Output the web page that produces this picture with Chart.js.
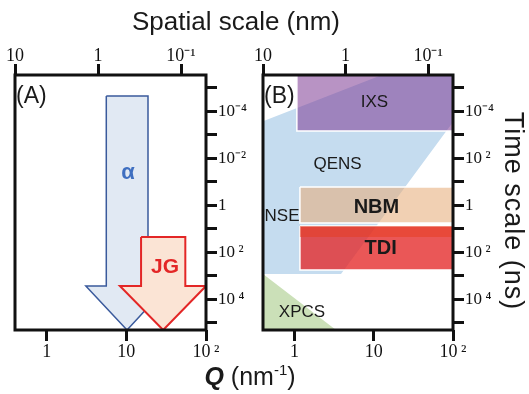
<!DOCTYPE html>
<html lang="en">
<head>
<meta charset="UTF-8" />
<title>Q - time scale map</title>
<script src="https://cdn.jsdelivr.net/npm/chart.js@4.4.1/dist/chart.umd.min.js"></script>
<style>
  body { margin: 0; background: #fff; }
  #wrap { position: relative; width: 529px; height: 394px; overflow: hidden; font-family: 'Liberation Sans', Arial, sans-serif; color: #1a1a1a; }
  canvas { position: absolute; top: 0; }
  #chartA { left: 0; }
  #chartB { left: 250px; }
  .txt { position: absolute; white-space: nowrap; }
  #spatialTitle { left: 0; width: 472px; top: 8px; text-align: center; font-size: 26px; line-height: 26px; }
  #qTitle { left: 150px; width: 200px; top: 364px; text-align: center; font-size: 25px; line-height: 25px; }
  #qTitle sup { font-size: 15px; vertical-align: 10px; line-height: 0; }
  #timeTitle { left: 394px; width: 240px; top: 196px; height: 30px; line-height: 30px; text-align: center;
               font-size: 27px; letter-spacing: 1px; transform: rotate(90deg); }
  .panel { font-size: 23px; line-height: 23px; top: 84px; }
</style>
</head>
<body>
<div id="wrap">
  <canvas id="chartA" width="260" height="394"></canvas>
  <canvas id="chartB" width="279" height="394"></canvas>
  <div class="txt" id="spatialTitle">Spatial scale (nm)</div>
  <div class="txt" id="qTitle"><b><i>Q</i></b> (nm<sup>-1</sup>)</div>
  <div class="txt" id="timeTitle">Time scale (ns)</div>
  <div class="txt panel" style="left:16px">(A)</div>
  <div class="txt panel" style="left:264px">(B)</div>
</div>

<script>
    // axis ranges and ticks
    const qMin = 0.4, qMax = 100;          // Q (nm^-1), bottom
    const spaceMin = 0.05, spaceMax = 10;  // spatial scale (nm), top
    const tMin = 2.82e-6, tMax = 2.0e5;    // time scale (ns), right

    const qTicks = [1, 10, 100];
    const qTickLabels = ['1', '10', '10\u2009²'];
    const spaceTicks = [10, 1, 0.1];
    const spaceTickLabels = ['10', '1', '10⁻¹'];
    const timeTicks = [1e-5, 1e-4, 1e-3, 1e-2, 1e-1, 1, 10, 100, 1e3, 1e4, 1e5];
    const timeTickLabelsA = ['', '10⁻⁴', '', '10⁻²', '', '1', '', '10\u2009²', '', '10\u2009⁴', ''];
    const timeTickLabelsB = ['', '10⁻⁴', '', '10\u2009²', '', '1', '', '10\u2009²', '', '10\u2009⁴', ''];

    // panel A : arrows (Q, time)
    const alphaQ = [5.6, 18.7, 18.7, 33, 10.2, 3.1, 5.6, 5.6];
    const alphaT = [2.2e-5, 2.2e-5, 2700, 2700, 2e5, 2700, 2700, 2.2e-5];
    const jgQ = [15.3, 55, 55, 100, 29, 8.3, 15.3, 15.3];
    const jgT = [22, 22, 2700, 2700, 2e5, 2700, 2700, 22];
    const aNames = ['α', 'JG'];
    const aNameQ = [10.5, 30.6];
    const aNameT = [0.042, 437];

    // panel B : technique windows (Q, time)
    const qensQ = [0.4, 12.7, 100, 100, 3.86, 0.4, 0.4];
    const qensT = [2.6e-4, 2.8e-6, 2.8e-6, 2.8e-4, 830, 830, 2.6e-4];
    const xpcsQ = [0.4, 3.34, 0.4, 0.4];
    const xpcsT = [830, 2e5, 2e5, 830];
    const ixsQ = [1.07, 100, 100, 1.07, 1.07];
    const ixsT = [2.8e-6, 2.8e-6, 6.8e-4, 6.8e-4, 2.8e-6];
    const nbmQ = [1.17, 100, 100, 1.17, 1.17];
    const nbmT = [0.164, 0.164, 5.6, 5.6, 0.164];
    const tdiQ = [1.17, 100, 100, 1.17, 1.17];
    const tdiT = [7.5, 7.5, 560, 560, 7.5];
    const tdiTopT = [7.5, 7.5, 22, 22, 7.5];
    const bNames = ['IXS', 'QENS', 'NSE', 'NBM', 'TDI', 'XPCS'];
    const bNameQ = [10.2, 3.49, 0.695, 10.8, 12.2, 1.24];
    const bNameT = [4.2e-5, 0.0174, 2.96, 1.22, 68, 3.6e4];

    const serif = size => ({ family: "'Liberation Serif', 'Times New Roman', serif", size: size });

    function shape(qs, ts, fill, stroke, width, order) {
        return {
            data: qs.map((q, i) => ({ x: q, y: ts[i] })),
            backgroundColor: fill,
            borderColor: stroke,
            borderWidth: width,
            borderJoinStyle: 'miter',
            fill: 'shape',
            pointRadius: 0,
            tension: 0,
            order: order
        };
    }

    // texts inside the plot, placed on the data scales
    const plotLabels = {
        id: 'plotLabels',
        afterDatasetsDraw(chart, args, opts) {
            const { ctx, scales } = chart;
            opts.names.forEach((name, i) => {
                ctx.save();
                ctx.font = opts.fonts[i];
                ctx.fillStyle = opts.colors[i];
                ctx.textAlign = 'center';
                ctx.textBaseline = 'middle';
                ctx.fillText(name, scales.x.getPixelForValue(opts.q[i]), scales.y.getPixelForValue(opts.t[i]));
                ctx.restore();
            });
        }
    };

    // black frame round the plot area
    const frame = {
        id: 'frame',
        afterDraw(chart) {
            const { ctx, chartArea: a } = chart;
            ctx.save();
            ctx.lineWidth = 3;
            ctx.strokeStyle = '#111';
            ctx.strokeRect(a.left, a.top, a.right - a.left, a.bottom - a.top);
            ctx.restore();
        }
    };

    function makeScales(timeLabels, rightWidth) {
        const grid = { drawOnChartArea: false, drawTicks: true, tickLength: 11, tickWidth: 3, tickColor: '#111' };
        return {
            x: {
                type: 'logarithmic', position: 'bottom', min: qMin, max: qMax,
                afterBuildTicks: s => { s.ticks = qTicks.map(v => ({ value: v })); },
                afterFit: s => { s.height = 64; },
                ticks: { autoSkip: false, maxRotation: 0, padding: 0, color: '#111', font: serif(18),
                         callback: (v, i) => qTickLabels[i] },
                grid: grid, border: { display: false }
            },
            x2: {
                type: 'logarithmic', position: 'top', min: spaceMin, max: spaceMax, reverse: true,
                afterBuildTicks: s => { s.ticks = spaceTicks.map(v => ({ value: v })); },
                afterFit: s => { s.height = 75; },
                ticks: { autoSkip: false, maxRotation: 0, padding: -3, color: '#111', font: serif(18),
                         callback: (v, i) => spaceTickLabels[i] },
                grid: grid, border: { display: false }
            },
            y: {
                type: 'logarithmic', position: 'right', min: tMin, max: tMax, reverse: true,
                afterBuildTicks: s => { s.ticks = timeTicks.map(v => ({ value: v })); },
                afterFit: s => { s.width = rightWidth; },
                ticks: { autoSkip: false, padding: 1, color: '#111', font: serif(17),
                         callback: (v, i) => timeLabels[i] },
                grid: grid, border: { display: false }
            }
        };
    }

    function makeChart(id, datasets, labels, timeLabels, padLeft, rightWidth) {
        return new Chart(document.getElementById(id), {
            type: 'line',
            data: { datasets: datasets },
            options: {
                responsive: false,
                animation: false,
                events: [],
                layout: { padding: { left: padLeft, right: 0, top: 0, bottom: 0 } },
                scales: makeScales(timeLabels, rightWidth),
                plugins: { legend: { display: false }, tooltip: { enabled: false }, plotLabels: labels }
            },
            plugins: [plotLabels, frame]
        });
    }

    makeChart('chartA', [
        shape(jgQ, jgT, '#fbe4d5', '#e32626', 2, 1),
        shape(alphaQ, alphaT, '#e1e9f3', '#3a5a9c', 1.5, 2)
    ], {
        names: aNames, q: aNameQ, t: aNameT,
        fonts: ['bold 22px "Liberation Sans", Arial', 'bold 21px "Liberation Sans", Arial'],
        colors: ['#3f6fc0', '#e32626']
    }, timeTickLabelsA, 15, 54);

    makeChart('chartB', [
        shape(tdiQ, tdiTopT, 'rgba(230,60,30,0.5)', 'rgba(0,0,0,0)', 0, 2),
        shape(tdiQ, tdiT, 'rgba(228,40,40,0.78)', '#ffffff', 1.5, 3),
        shape(nbmQ, nbmT, 'rgba(231,174,124,0.58)', '#ffffff', 1.5, 4),
        shape(ixsQ, ixsT, 'rgba(125,58,147,0.55)', '#ffffff', 1.5, 5),
        shape(xpcsQ, xpcsT, '#cbe0b8', 'rgba(0,0,0,0)', 0, 6),
        shape(qensQ, qensT, '#c5dcef', 'rgba(0,0,0,0)', 0, 7)
    ], {
        names: bNames, q: bNameQ, t: bNameT,
        fonts: ['17px "Liberation Sans", Arial', '17px "Liberation Sans", Arial', '17px "Liberation Sans", Arial',
                'bold 20px "Liberation Sans", Arial', 'bold 20px "Liberation Sans", Arial', '17px "Liberation Sans", Arial'],
        colors: ['#1a1a1a', '#1a1a1a', '#1a1a1a', '#1a1a1a', '#1a1a1a', '#1a1a1a']
    }, timeTickLabelsB, 13, 76);
</script>
</body>
</html>
